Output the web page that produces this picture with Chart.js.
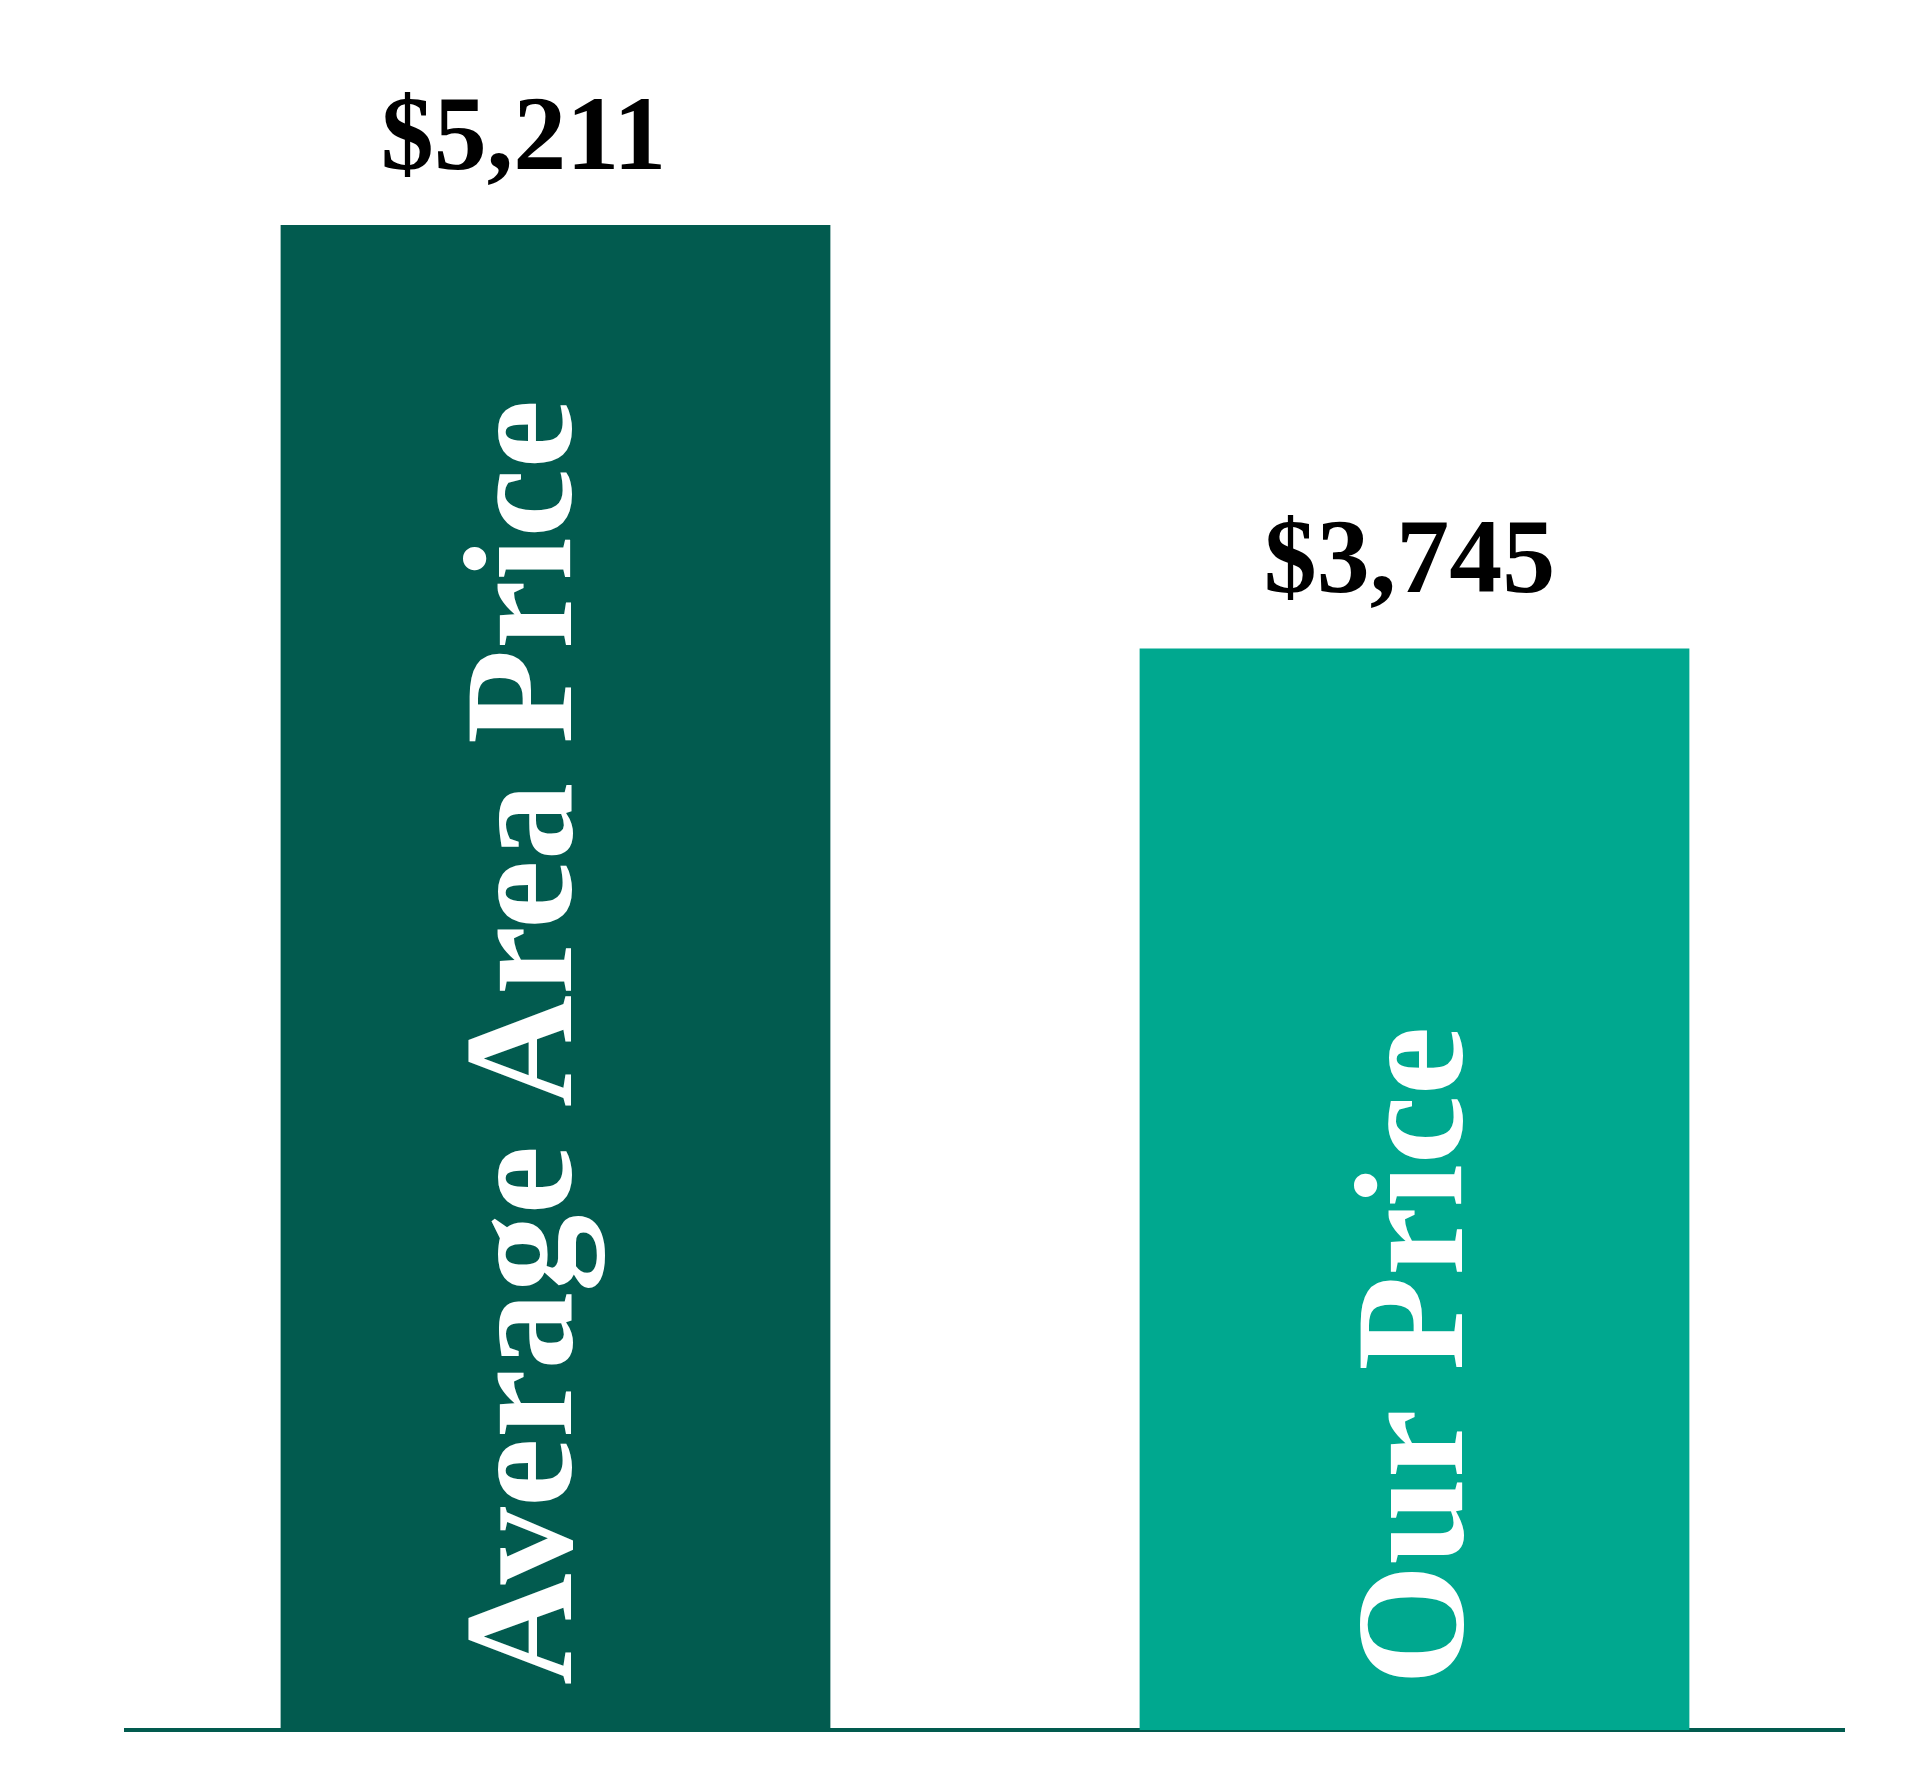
<!DOCTYPE html>
<html>
<head>
<meta charset="utf-8">
<title>Average Area Price vs Our Price</title>
<script src="https://cdn.jsdelivr.net/npm/chart.js@4.4.1/dist/chart.umd.min.js"></script>
<style>
  html, body { margin: 0; padding: 0; background: #ffffff; }
  #wrap { width: 1920px; height: 1792px; }
</style>
</head>
<body>
<div id="wrap"><canvas id="priceChart" width="1920" height="1792"></canvas></div>
<script>
// ── data ──
const categories = ['Average Area Price', 'Our Price'];
const prices     = [5211, 3745];
const barColors  = ['#025B4F', '#00A88F'];

const SERIF = '"Liberation Serif", "Times New Roman", serif';
const fmtPrice = v => '$' + v.toLocaleString('en-US');

// value labels above bars + rotated category names inside bars
const barTextPlugin = {
    id: 'barText',
    afterDatasetsDraw(chart, args, opts) {
        const ctx = chart.ctx;
        const meta = chart.getDatasetMeta(0);
        meta.data.forEach((bar, i) => {
            // price above the bar
            ctx.save();
            ctx.fillStyle = '#000000';
            ctx.font = `bold ${opts.valueSize}px ${SERIF}`;
            ctx.textAlign = 'center';
            ctx.textBaseline = 'alphabetic';
            ctx.fillText(fmtPrice(prices[i]), bar.x + opts.valueShift[i], bar.y - opts.valueGap);
            ctx.restore();

            // category name, reading bottom to top
            ctx.save();
            ctx.fillStyle = '#ffffff';
            ctx.font = `bold ${opts.nameSize}px ${SERIF}`;
            ctx.textAlign = 'left';
            ctx.textBaseline = 'alphabetic';
            ctx.translate(bar.x + opts.nameShift[i], bar.base - opts.nameGap);
            ctx.rotate(-Math.PI / 2);
            ctx.fillText(categories[i], 0, 0);
            ctx.restore();
        });
    }
};

new Chart(document.getElementById('priceChart').getContext('2d'), {
    type: 'bar',
    data: {
        labels: categories,
        datasets: [{
            data: prices,
            backgroundColor: barColors,
            borderWidth: 0,
            categoryPercentage: 0.8,
            barPercentage: 0.8
        }]
    },
    options: {
        responsive: false,
        devicePixelRatio: 1,
        animation: false,
        layout: { padding: { left: 126, right: 76, top: 0, bottom: 62 } },
        plugins: {
            legend: { display: false },
            tooltip: { enabled: false },
            barText: {
                valueSize: 106, valueGap: 56, valueShift: [-32, -5],
                nameSize: 155, nameGap: 45, nameShift: [15, 47]
            }
        },
        scales: {
            x: {
                grid: { display: false, drawTicks: false },
                ticks: { display: false },
                border: { display: true, color: '#025B4F', width: 4 }
            },
            y: { display: false, min: 0, max: 5990 }
        }
    },
    plugins: [barTextPlugin]
});
</script>
</body>
</html>
